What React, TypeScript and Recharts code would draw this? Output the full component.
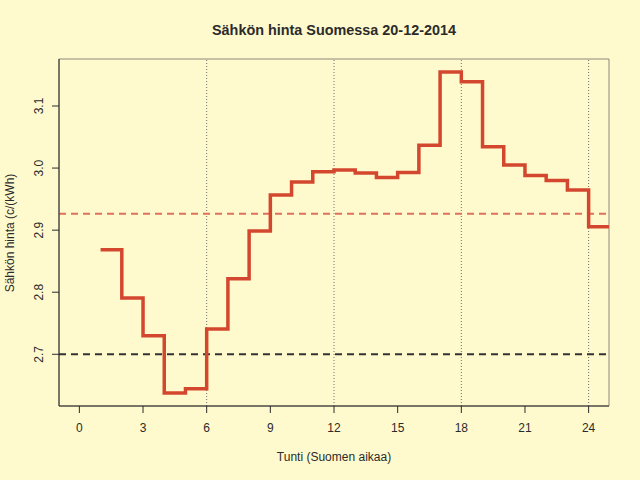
import { Line, LineChart, ReferenceArea, ReferenceLine, XAxis, YAxis } from "recharts";

const hours = [1, 2, 3, 4, 5, 6, 7, 8, 9, 10, 11, 12, 13, 14, 15, 16, 17, 18, 19, 20, 21, 22, 23, 24];
const prices = [
  2.8685, 2.7907, 2.73, 2.6377, 2.6446, 2.7408, 2.8216, 2.8986, 2.9566, 2.9775, 2.9942, 2.9969,
  2.992, 2.985, 2.993, 3.0367, 3.1547, 3.139, 3.0344, 3.005, 2.988, 2.98, 2.9647, 2.9056,
];
const meanPrice = 2.9265;
const basePrice = 2.7;
const xTicks = [0, 3, 6, 9, 12, 15, 18, 21, 24];
const yTicks = [2.7, 2.8, 2.9, 3.0, 3.1];
const dividerHours = [6, 12, 18, 24];

const X_DOMAIN: [number, number] = [-0.96, 24.96];
const Y_DOMAIN: [number, number] = [2.6167, 3.1757];

const FONT = '"Liberation Sans", Arial, Helvetica, sans-serif';
const BG = "#FFFACD";
const INK = "#2b2b2b";

// last hour is held until the end of the day
const data = [
  ...hours.map((h, i) => ({ hour: h, price: prices[i] })),
  { hour: hours[hours.length - 1] + 1, price: prices[prices.length - 1] },
];

function YTick({ x, y, payload }: any) {
  return (
    <text
      transform={`translate(${x - 11}, ${y}) rotate(-90)`}
      textAnchor="middle"
      dy="0.35em"
      fontSize={12}
      fontFamily={FONT}
      fill={INK}
    >
      {payload.value.toFixed(1)}
    </text>
  );
}

export default function App() {
  return (
    <div style={{ position: "absolute", left: 0, top: 0, width: 640, height: 480, background: BG }}>
      <LineChart
        width={640}
        height={480}
        data={data}
        margin={{ top: 59, right: 31, left: 0, bottom: 0 }}
      >
        <ReferenceArea
          x1={X_DOMAIN[0]}
          x2={X_DOMAIN[1]}
          y1={Y_DOMAIN[0]}
          y2={Y_DOMAIN[1]}
          fill="none"
          stroke="#8c887a"
          strokeWidth={1}
        />
        <XAxis
          type="number"
          dataKey="hour"
          domain={X_DOMAIN}
          ticks={xTicks}
          allowDataOverflow
          height={74}
          tickSize={7}
          tickMargin={10}
          stroke={INK}
          tick={{ fontSize: 12, fontFamily: FONT, fill: INK }}
          label={{
            value: "Tunti (Suomen aikaa)",
            position: "insideBottom",
            offset: 19,
            fontSize: 12,
            fontFamily: FONT,
            fill: INK,
          }}
        />
        <YAxis
          type="number"
          domain={Y_DOMAIN}
          ticks={yTicks}
          allowDataOverflow
          width={59}
          tickSize={7}
          tickMargin={2}
          stroke={INK}
          tick={<YTick />}
        />
        {dividerHours.map((h) => (
          <ReferenceLine key={h} x={h} stroke="#6e6e6e" strokeDasharray="1 2" strokeWidth={1} />
        ))}
        <ReferenceLine y={meanPrice} stroke="#E0705C" strokeDasharray="7 5" strokeWidth={2} />
        <ReferenceLine y={basePrice} stroke="#333333" strokeDasharray="7 5" strokeWidth={2} />
        <Line
          type="stepAfter"
          dataKey="price"
          stroke="#D4472F"
          strokeWidth={3.5}
          dot={false}
          activeDot={false}
          isAnimationActive={false}
        />
      </LineChart>
      <svg
        width={640}
        height={480}
        style={{ position: "absolute", left: 0, top: 0, pointerEvents: "none" }}
      >
        <text
          x={334}
          y={30}
          dy="0.35em"
          textAnchor="middle"
          fontSize={14.4}
          fontWeight="bold"
          fontFamily={FONT}
          fill={INK}
        >
          Sähkön hinta Suomessa 20-12-2014
        </text>
        <text
          transform="translate(10, 233) rotate(-90)"
          dy="0.35em"
          textAnchor="middle"
          fontSize={12}
          fontFamily={FONT}
          fill={INK}
        >
          Sähkön hinta (c/(kWh)
        </text>
      </svg>
    </div>
  );
}
